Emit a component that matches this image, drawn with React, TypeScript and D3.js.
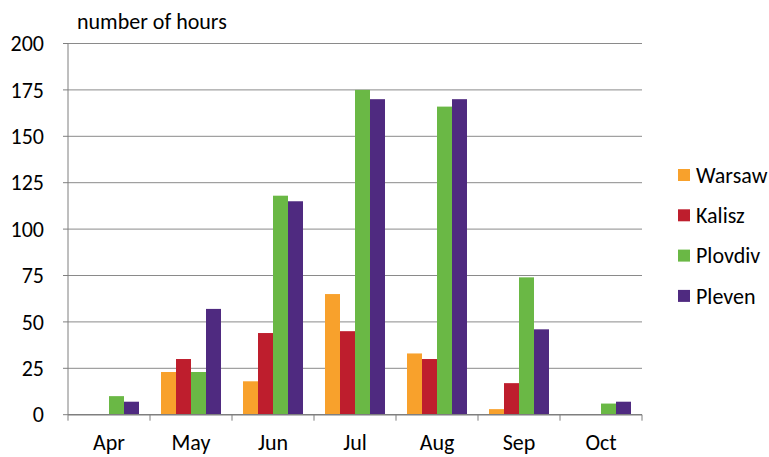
import { useEffect, useRef } from "react";
import * as d3 from "d3";

const months = ["Apr", "May", "Jun", "Jul", "Aug", "Sep", "Oct"];
const cities = ["Warsaw", "Kalisz", "Plovdiv", "Pleven"];
const warsaw = [0, 23, 18, 65, 33, 3, 0];
const kalisz = [0, 30, 44, 45, 30, 17, 0];
const plovdiv = [10, 23, 118, 175, 166, 74, 6];
const pleven = [7, 57, 115, 170, 170, 46, 7];
const yTicks = [0, 25, 50, 75, 100, 125, 150, 175, 200];
const colors = ["#F8A12C", "#BE1E2D", "#6AB845", "#4F2A80"];

export default function App() {
  const svgRef = useRef<SVGSVGElement>(null);

  useEffect(() => {
    const width = 769;
    const height = 457;
    const left = 68;
    const right = 642;
    const top = 43.5;
    const bottom = 414.7;
    const font = "Calibri, Carlito, 'Liberation Sans', Arial, sans-serif";
    const fontSize = 22;

    const svg = d3.select(svgRef.current);
    svg.selectAll("*").remove();
    svg.attr("width", width).attr("height", height);

    const series = [warsaw, kalisz, plovdiv, pleven];

    const x = d3.scaleBand<string>().domain(months).range([left, right]).padding(0);
    const inner = d3
      .scaleBand<string>()
      .domain(cities)
      .range([11, x.bandwidth() - 11])
      .padding(0);
    const y = d3.scaleLinear().domain([0, 200]).range([bottom, top]);

    // gridlines
    svg
      .append("g")
      .selectAll("line")
      .data(yTicks.filter((t) => t > 0))
      .join("line")
      .attr("x1", left)
      .attr("x2", right)
      .attr("y1", (d) => y(d))
      .attr("y2", (d) => y(d))
      .attr("stroke", "#8a8a8a")
      .attr("stroke-width", 1);

    // bars
    series.forEach((values, si) => {
      svg
        .append("g")
        .selectAll("rect")
        .data(values.map((v, i) => ({ month: months[i], value: v })))
        .join("rect")
        .attr("x", (d) => (x(d.month) || 0) + (inner(cities[si]) || 0))
        .attr("y", (d) => y(d.value))
        .attr("width", inner.bandwidth())
        .attr("height", (d) => bottom - y(d.value))
        .attr("fill", colors[si]);
    });

    // y axis
    const yAxis = svg.append("g").attr("transform", `translate(${left},0)`);
    yAxis
      .append("line")
      .attr("x1", 0)
      .attr("x2", 0)
      .attr("y1", top)
      .attr("y2", bottom)
      .attr("stroke", "#7f7f7f");
    yAxis
      .selectAll("line.tick")
      .data(yTicks)
      .join("line")
      .attr("class", "tick")
      .attr("x1", -5)
      .attr("x2", 0)
      .attr("y1", (d) => y(d))
      .attr("y2", (d) => y(d))
      .attr("stroke", "#7f7f7f");
    yAxis
      .selectAll("text")
      .data(yTicks)
      .join("text")
      .attr("x", -24)
      .attr("y", (d) => y(d))
      .attr("dy", "0.35em")
      .attr("text-anchor", "end")
      .attr("font-family", font)
      .attr("font-size", fontSize)
      .attr("fill", "#000")
      .text((d) => d);

    // x axis
    const xAxis = svg.append("g").attr("transform", `translate(0,${bottom})`);
    xAxis
      .append("line")
      .attr("x1", left)
      .attr("x2", right)
      .attr("y1", 0)
      .attr("y2", 0)
      .attr("stroke", "#7f7f7f")
      .attr("stroke-width", 1.5);
    const boundaries = months.map((m) => x(m) || 0).concat([right]);
    xAxis
      .selectAll("line.tick")
      .data(boundaries)
      .join("line")
      .attr("class", "tick")
      .attr("x1", (d) => d)
      .attr("x2", (d) => d)
      .attr("y1", 0)
      .attr("y2", 6)
      .attr("stroke", "#7f7f7f");
    xAxis
      .selectAll("text")
      .data(months)
      .join("text")
      .attr("x", (d) => (x(d) || 0) + x.bandwidth() / 2)
      .attr("y", 35)
      .attr("text-anchor", "middle")
      .attr("font-family", font)
      .attr("font-size", fontSize)
      .attr("fill", "#000")
      .text((d) => d);

    // axis title
    svg
      .append("text")
      .attr("x", 77)
      .attr("y", 29)
      .attr("font-family", font)
      .attr("font-size", fontSize)
      .attr("fill", "#000")
      .text("number of hours");

    // legend
    const legend = svg
      .append("g")
      .selectAll("g")
      .data(cities)
      .join("g")
      .attr("transform", (_, i) => `translate(678,${175 + i * 40.3})`);
    legend
      .append("rect")
      .attr("x", 0)
      .attr("y", -6)
      .attr("width", 12)
      .attr("height", 12)
      .attr("fill", (_, i) => colors[i]);
    legend
      .append("text")
      .attr("x", 18)
      .attr("y", 0)
      .attr("dy", "0.35em")
      .attr("font-family", font)
      .attr("font-size", fontSize)
      .attr("fill", "#000")
      .text((d) => d);
  }, []);

  return (
    <svg
      ref={svgRef}
      style={{ position: "absolute", left: 0, top: 0, background: "#fff" }}
    />
  );
}
